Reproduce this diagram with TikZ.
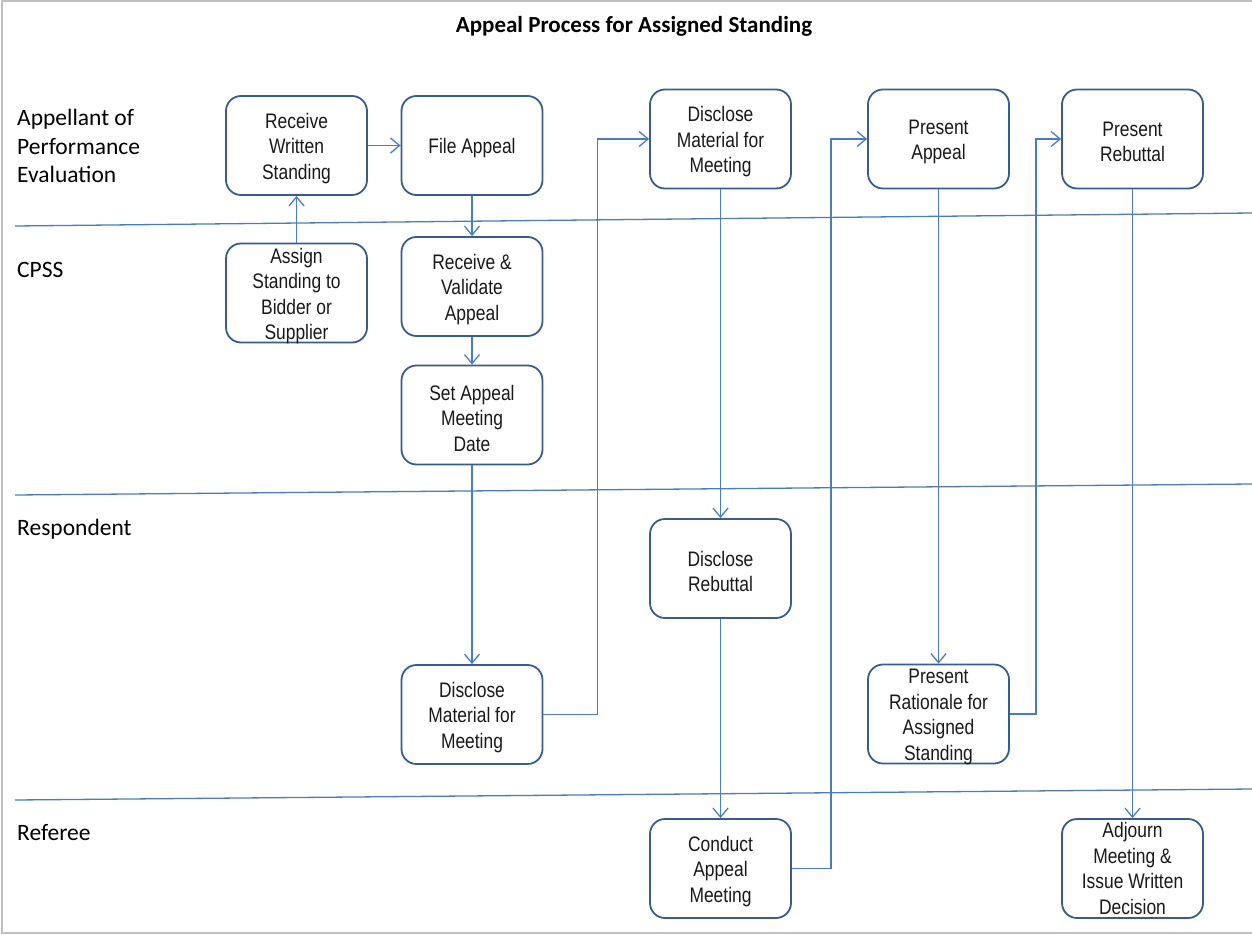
\documentclass[tikz,border=0pt]{standalone}
\usepackage{fontspec}
\setmainfont{Carlito}
\newfontfamily\narrowfont[FakeStretch=0.83]{Liberation Sans}
\usetikzlibrary{arrows.meta}
\definecolor{boxblue}{RGB}{56,93,138}
\definecolor{linkblue}{RGB}{74,126,187}
\definecolor{framegray}{RGB}{192,192,192}
\tikzset{
  boxshape/.style={draw=boxblue, line width=1.8pt, rounded corners=15pt, fill=white,
    minimum width=141pt, minimum height=99pt, inner sep=0pt},
  stepbox/.style={boxshape, label={[boxtext]center:#1}},
  stepboxhigh/.style={boxshape, label={[boxtext, yshift=3pt]center:#1}},
  boxtext/.style={align=center, inner sep=0pt, yshift=-3pt,
    font=\narrowfont\fontsize{21}{25.5}\selectfont, text=black!90},
  conn/.style={draw=linkblue, line width=1.3pt, -{Straight Barb[length=9pt,width=15pt,line width=1.3pt]}},
  lane/.style={draw=linkblue, line width=1.3pt},
  lanelabel/.style={anchor=west, align=left, inner sep=0pt, font=\fontsize{23.5}{28.5}\selectfont},
}
\begin{document}
\begin{tikzpicture}[x=1pt,y=-1pt]
\useasboundingbox (0,0) rectangle (1252,934);
\fill[white] (0,0) rectangle (1252,934);
\draw[framegray, line width=2pt] (1252,1.5) -- (1.5,1.5) -- (1.5,932.5) -- (1252,932.5);

% title
\node[font=\bfseries\fontsize{23}{27}\selectfont] (title) at (634,26) {Appeal Process for Assigned Standing};

% lane separators
\draw[lane] (15,226) -- (1252,213);
\draw[lane] (15,495) -- (1252,484);
\draw[lane] (15,800) -- (1252,789);

% lane labels
\node[lanelabel] (l1) at (17,146) {Appellant of\\Performance\\Evaluation};
\node[lanelabel] (l2) at (17,270) {CPSS};
\node[lanelabel] (l3) at (17,529) {Respondent};
\node[lanelabel] (l4) at (17,833) {Referee};

% boxes
\node[stepbox={Receive\\Written\\Standing}] (rws) at (296.5,145.5) {};
\node[stepbox={File Appeal}] (fa)  at (472,145.5) {};
\node[stepbox={Assign\\Standing to\\Bidder or\\Supplier}] (as)  at (296.5,293) {};
\node[stepbox={Receive \&\\Validate\\Appeal}] (rva) at (472,286.5) {};
\node[stepbox={Set Appeal\\Meeting\\Date}] (sad) at (472,415) {};
\node[stepbox={Disclose\\Material for\\Meeting}] (dma) at (720.5,139) {};
\node[stepbox={Present\\Appeal}] (pa)  at (938.5,139) {};
\node[stepbox={Present\\Rebuttal}] (pr)  at (1132.5,139) {};
\node[stepbox={Disclose\\Rebuttal}] (dr)  at (720.5,568.5) {};
\node[stepbox={Disclose\\Material for\\Meeting}] (dmr) at (472,714.5) {};
\node[stepbox={Present\\Rationale for\\Assigned\\Standing}] (pras) at (938.5,714) {};
\node[stepbox={Conduct\\Appeal\\Meeting}] (cam) at (720.5,868.5) {};
\node[stepboxhigh={Adjourn\\Meeting \&\\Issue Written\\Decision}] (amd) at (1132.5,868.5) {};

% connectors
\draw[conn] (as.north) -- (rws.south);
\draw[conn] (rws.east) -- (fa.west);
\draw[conn] (fa.south) -- (rva.north);
\draw[conn] (rva.south) -- (sad.north);
\draw[conn] (sad.south) -- (dmr.north);
\draw[conn] (dmr.east) -- ++(54,0) |- (dma.west);
\draw[conn] (dma.south) -- (dr.north);
\draw[conn] (dr.south) -- (cam.north);
\draw[conn] (cam.east) -- ++(39,0) |- (pa.west);
\draw[conn] (pa.south) -- (pras.north);
\draw[conn] (pras.east) -- ++(26,0) |- (pr.west);
\draw[conn] (pr.south) -- (amd.north);
\end{tikzpicture}
\end{document}
